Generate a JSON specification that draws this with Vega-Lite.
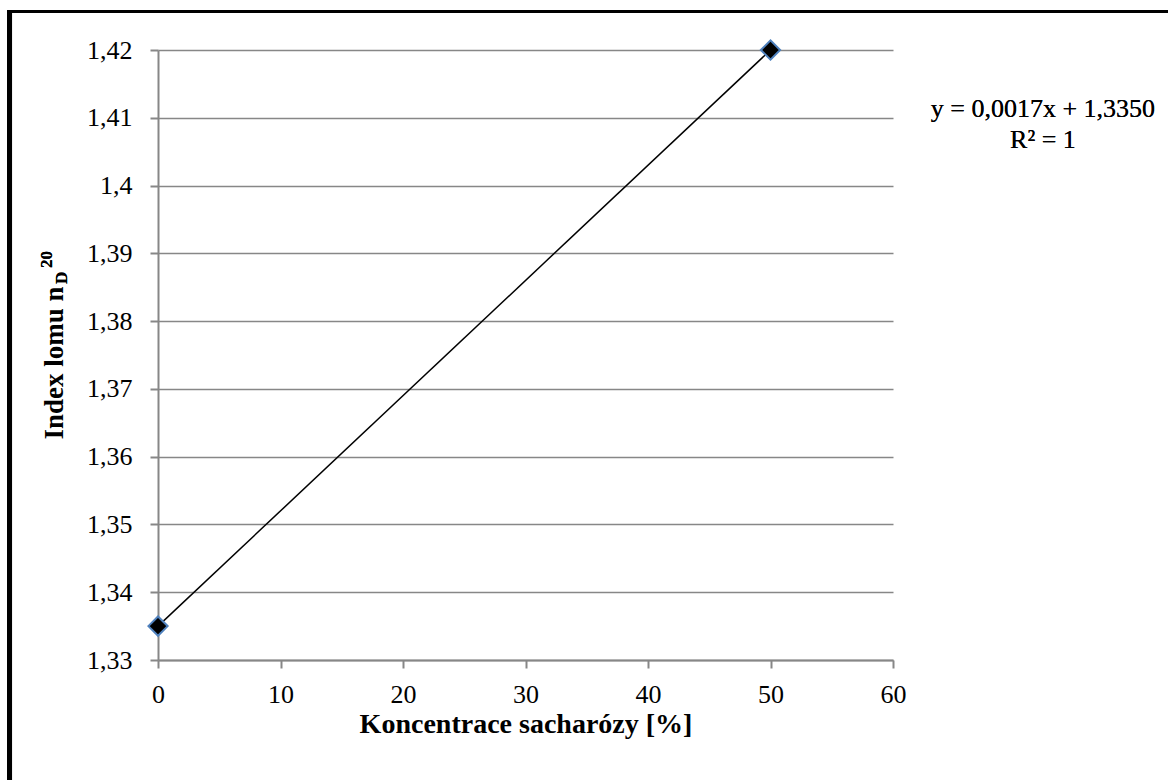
{
  "$schema": "https://vega.github.io/schema/vega-lite/v6.json",
  "width": 735,
  "height": 610,
  "autosize": {"type": "none"},
  "padding": {"left": 158, "top": 50, "right": 275, "bottom": 120},
  "background": "white",
  "config": {"view": {"stroke": null}, "font": "Liberation Serif"},
  "data": {"values": [{"c": 0, "n": 1.335}, {"c": 50, "n": 1.42}]},
  "layer": [
    {
      "mark": {"type": "line", "color": "black", "strokeWidth": 1.5},
      "encoding": {
        "x": {
          "field": "c", "type": "quantitative",
          "scale": {"domain": [0, 60], "nice": false},
          "axis": {
            "values": [0, 10, 20, 30, 40, 50, 60],
            "grid": false,
            "domainColor": "#878787", "domainWidth": 2,
            "tickColor": "#878787", "tickWidth": 2, "tickSize": 8,
            "labelFont": "Liberation Serif", "labelFontSize": 26, "labelColor": "black",
            "labelBaseline": "alphabetic", "labelPadding": 34, "labelFlush": false,
            "title": "Koncentrace sacharózy [%]",
            "titleFont": "Liberation Serif", "titleFontSize": 28, "titleFontWeight": "bold", "titleColor": "black",
            "titleBaseline": "alphabetic", "titleY": 72
          }
        },
        "y": {
          "field": "n", "type": "quantitative",
          "scale": {"domain": [1.33, 1.42], "zero": false, "nice": false},
          "axis": {
            "values": [1.33, 1.34, 1.35, 1.36, 1.37, 1.38, 1.39, 1.4, 1.41, 1.42],
            "labelExpr": "replace(format(datum.value, '.3~g'), '.', ',')",
            "grid": true, "gridColor": "#878787", "gridWidth": 1.5,
            "domainColor": "#878787", "domainWidth": 2,
            "tickColor": "#878787", "tickWidth": 2, "tickSize": 8,
            "labelFont": "Liberation Serif", "labelFontSize": 26, "labelColor": "black",
            "labelPadding": 18, "labelFlush": false, "labelOverlap": false,
            "title": "Index lomu n",
            "titleFont": "Liberation Serif", "titleFontSize": 27, "titleFontWeight": "bold", "titleColor": "black",
            "titleAngle": 270, "titleAlign": "left", "titleBaseline": "alphabetic",
            "titleX": -96, "titleY": 389
          }
        }
      }
    },
    {
      "mark": {"type": "point", "shape": "diamond", "filled": true, "fill": "black", "stroke": "#4f81bd", "strokeWidth": 2, "size": 370, "opacity": 1},
      "encoding": {
        "x": {"field": "c", "type": "quantitative"},
        "y": {"field": "n", "type": "quantitative"}
      }
    },
    {
      "mark": {"type": "text", "text": ["y = 0,0017x + 1,3350", "R² = 1"], "align": "center", "baseline": "alphabetic", "lineHeight": 31, "fontSize": 26, "font": "Liberation Serif", "color": "black"},
      "encoding": {
        "x": {"datum": 72.24, "type": "quantitative"},
        "y": {"datum": 1.41012, "type": "quantitative"}
      }
    },
    {
      "mark": {"type": "text", "text": "D", "angle": 270, "align": "left", "baseline": "alphabetic", "fontSize": 17, "fontWeight": "bold", "font": "Liberation Serif", "color": "black"},
      "encoding": {
        "x": {"datum": -7.43, "type": "quantitative"},
        "y": {"datum": 1.38548, "type": "quantitative"}
      }
    },
    {
      "mark": {"type": "text", "text": "20", "angle": 270, "align": "left", "baseline": "alphabetic", "fontSize": 17, "fontWeight": "bold", "font": "Liberation Serif", "color": "black"},
      "encoding": {
        "x": {"datum": -8.65, "type": "quantitative"},
        "y": {"datum": 1.38784, "type": "quantitative"}
      }
    },
    {
      "mark": {"type": "rule", "color": "black", "strokeWidth": 5},
      "encoding": {
        "x": {"datum": -12.12, "type": "quantitative"},
        "y": {"datum": 1.42585, "type": "quantitative"},
        "y2": {"datum": 1.3}
      }
    },
    {
      "mark": {"type": "rule", "color": "black", "strokeWidth": 3},
      "encoding": {
        "y": {"datum": 1.42568, "type": "quantitative"},
        "x": {"datum": -12.32, "type": "quantitative"},
        "x2": {"datum": 90}
      }
    }
  ]
}
